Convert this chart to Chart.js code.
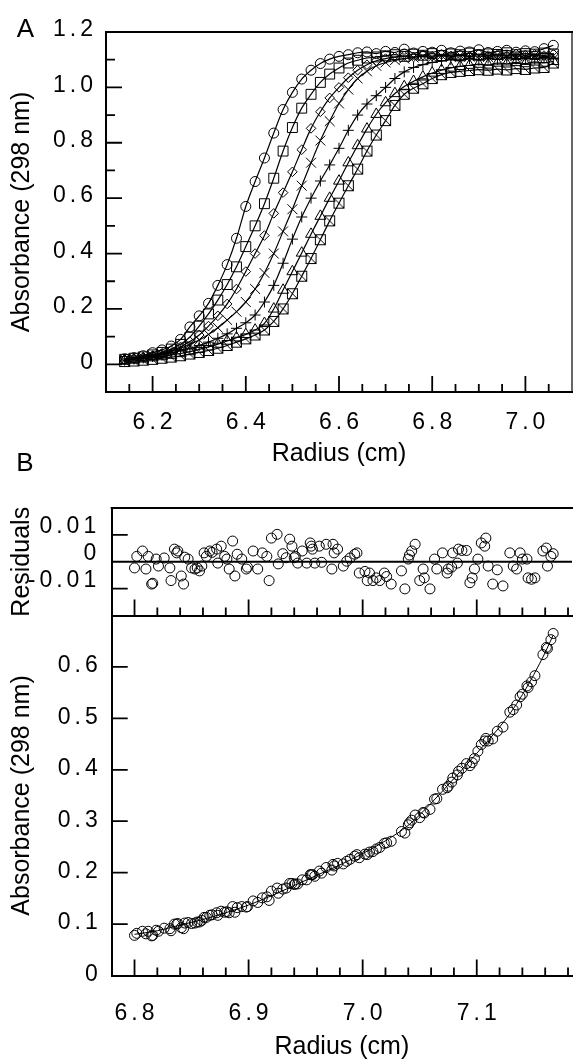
<!DOCTYPE html>
<html><head><meta charset="utf-8">
<script src="https://cdn.jsdelivr.net/npm/chart.js@4.4.1/dist/chart.umd.min.js"></script>
<style>
html,body{margin:0;padding:0;background:#fff;}
#wrap{position:relative;width:573px;height:1061px;overflow:hidden;background:#fff;}
canvas{position:absolute;left:0;}
</style></head><body>
<div id="wrap">
<canvas id="cA" width="573" height="470" style="top:0px"></canvas>
<canvas id="cR" width="573" height="190" style="top:440px"></canvas>
<canvas id="cB" width="573" height="461" style="top:600px"></canvas>
</div>
<script>
// ---------- Panel A data ----------
const radiusA = [6.14,6.16,6.18,6.20,6.22,6.24,6.26,6.28,6.30,6.32,6.34,6.36,6.38,6.40,6.42,6.44,6.46,6.48,6.50,6.52,6.54,6.56,6.58,6.60,6.62,6.64,6.66,6.68,6.70,6.72,6.74,6.76,6.78,6.80,6.82,6.84,6.86,6.88,6.90,6.92,6.94,6.96,6.98,7.00,7.02,7.04,7.06];
const circleA = [0.020,0.024,0.031,0.042,0.052,0.066,0.090,0.135,0.175,0.220,0.285,0.360,0.455,0.570,0.660,0.745,0.835,0.920,0.982,1.030,1.062,1.086,1.102,1.112,1.118,1.125,1.128,1.122,1.130,1.126,1.138,1.124,1.130,1.127,1.134,1.125,1.131,1.128,1.136,1.126,1.130,1.134,1.127,1.132,1.129,1.140,1.152];
const squareA = [0.018,0.022,0.027,0.034,0.043,0.055,0.072,0.098,0.138,0.182,0.232,0.288,0.352,0.425,0.500,0.580,0.672,0.770,0.855,0.925,0.975,1.018,1.048,1.070,1.088,1.098,1.106,1.110,1.114,1.118,1.112,1.120,1.116,1.122,1.115,1.121,1.118,1.124,1.117,1.121,1.119,1.125,1.118,1.122,1.120,1.124,1.121];
const diamondA = [0.017,0.021,0.026,0.032,0.040,0.050,0.063,0.082,0.106,0.138,0.175,0.218,0.272,0.335,0.400,0.465,0.545,0.620,0.695,0.775,0.852,0.912,0.962,1.000,1.035,1.062,1.082,1.096,1.104,1.110,1.114,1.110,1.117,1.113,1.119,1.114,1.118,1.112,1.120,1.115,1.118,1.114,1.121,1.116,1.119,1.115,1.120];
const timesA = [0.016,0.020,0.025,0.031,0.038,0.047,0.058,0.072,0.088,0.108,0.132,0.160,0.190,0.225,0.272,0.330,0.400,0.480,0.560,0.645,0.728,0.808,0.878,0.942,0.992,1.032,1.058,1.078,1.090,1.098,1.104,1.108,1.112,1.108,1.115,1.110,1.116,1.111,1.114,1.110,1.117,1.112,1.115,1.110,1.116,1.112,1.114];
const plusA = [0.015,0.019,0.023,0.028,0.034,0.041,0.049,0.058,0.068,0.080,0.094,0.110,0.130,0.150,0.178,0.225,0.285,0.365,0.452,0.532,0.600,0.662,0.720,0.780,0.845,0.900,0.940,0.970,1.000,1.032,1.056,1.072,1.082,1.090,1.095,1.100,1.096,1.104,1.099,1.106,1.101,1.108,1.103,1.107,1.102,1.108,1.104];
const triangleA = [0.014,0.017,0.020,0.024,0.028,0.033,0.039,0.046,0.054,0.063,0.073,0.084,0.096,0.108,0.124,0.148,0.200,0.268,0.335,0.402,0.470,0.535,0.600,0.662,0.728,0.790,0.850,0.903,0.945,0.978,1.003,1.022,1.038,1.052,1.062,1.070,1.076,1.080,1.084,1.081,1.088,1.085,1.090,1.086,1.092,1.088,1.094];
const boxedA = [0.010,0.012,0.015,0.018,0.022,0.026,0.031,0.037,0.043,0.050,0.058,0.068,0.080,0.092,0.106,0.124,0.155,0.200,0.255,0.318,0.382,0.450,0.518,0.582,0.645,0.705,0.770,0.828,0.880,0.935,0.975,0.997,1.013,1.032,1.046,1.054,1.058,1.061,1.064,1.062,1.066,1.063,1.068,1.065,1.070,1.072,1.088];

const xTicksA = [6.2,6.4,6.6,6.8,7.0];
const xLabelsA = ["6.2","6.4","6.6","6.8","7.0"];
const xMinorA = [6.15,6.25,6.3,6.35,6.45,6.5,6.55,6.65,6.7,6.75,6.85,6.9,6.95,7.05];
const yTicksA = [0,0.2,0.4,0.6,0.8,1.0,1.2];
const yLabelsA = ["0","0.2","0.4","0.6","0.8","1.0","1.2"];
const yMinorA = [0.1,0.3,0.5,0.7,0.9,1.1];

// ---------- Panel B data ----------
const radiusB = [6.800,6.802,6.807,6.810,6.812,6.815,6.816,6.819,6.821,6.826,6.831,6.832,6.835,6.837,6.838,6.841,6.843,6.844,6.847,6.850,6.853,6.855,6.857,6.859,6.861,6.863,6.866,6.868,6.872,6.873,6.876,6.879,6.881,6.883,6.886,6.888,6.890,6.894,6.898,6.899,6.904,6.908,6.912,6.916,6.918,6.920,6.925,6.926,6.930,6.933,6.936,6.938,6.940,6.941,6.943,6.947,6.951,6.954,6.955,6.956,6.958,6.962,6.964,6.968,6.973,6.974,6.975,6.978,6.983,6.986,6.989,6.993,6.995,6.997,7.002,7.004,7.006,7.009,7.012,7.015,7.019,7.021,7.025,7.034,7.037,7.040,7.041,7.043,7.046,7.050,7.053,7.054,7.059,7.063,7.065,7.070,7.074,7.075,7.078,7.079,7.083,7.084,7.087,7.091,7.094,7.096,7.098,7.101,7.104,7.107,7.108,7.110,7.114,7.118,7.123,7.129,7.132,7.135,7.138,7.140,7.144,7.145,7.148,7.151,7.158,7.161,7.162,7.165,7.167];
const residB = [-0.0023,0.0020,0.0040,-0.0027,0.0020,-0.0083,-0.0080,0.0010,-0.0016,0.0014,-0.0023,-0.0070,0.0047,0.0033,0.0040,-0.0053,-0.0083,0.0017,0.0010,-0.0023,-0.0027,-0.0023,-0.0034,-0.0016,0.0033,0.0020,0.0040,0.0035,0.0047,-0.0005,0.0058,0.0020,0.0010,-0.0027,0.0077,-0.0053,0.0028,0.0010,-0.0027,-0.0020,0.0040,-0.0027,0.0033,0.0020,-0.0070,0.0088,0.0102,-0.0008,0.0030,0.0015,0.0084,0.0058,0.0015,0.0020,-0.0005,0.0040,-0.0005,0.0070,0.0058,0.0047,-0.0005,0.0058,-0.0002,0.0065,-0.0027,0.0065,0.0033,0.0047,-0.0016,0.0002,0.0014,0.0028,0.0033,-0.0042,-0.0036,-0.0070,-0.0042,-0.0070,-0.0060,-0.0070,-0.0042,-0.0055,-0.0083,-0.0034,-0.0101,0.0010,0.0025,0.0040,0.0065,-0.0070,-0.0027,-0.0060,-0.0101,0.0010,-0.0027,0.0033,-0.0042,-0.0027,-0.0020,0.0033,-0.0005,0.0047,0.0042,0.0042,-0.0078,-0.0060,-0.0027,0.0010,0.0070,0.0058,0.0088,-0.0016,-0.0083,-0.0030,-0.0090,0.0033,-0.0016,-0.0027,0.0033,0.0010,0.0010,-0.0060,-0.0065,-0.0060,0.0040,0.0051,-0.0016,0.0020,0.0030];
const absB = [0.078,0.082,0.086,0.081,0.086,0.077,0.078,0.088,0.086,0.092,0.091,0.087,0.100,0.100,0.101,0.093,0.091,0.102,0.103,0.101,0.102,0.104,0.104,0.107,0.113,0.113,0.117,0.118,0.122,0.117,0.125,0.123,0.124,0.122,0.134,0.123,0.132,0.134,0.133,0.134,0.145,0.142,0.151,0.153,0.146,0.164,0.170,0.160,0.168,0.170,0.179,0.179,0.177,0.178,0.178,0.186,0.186,0.196,0.196,0.196,0.193,0.203,0.199,0.210,0.205,0.216,0.213,0.218,0.217,0.222,0.226,0.232,0.235,0.229,0.236,0.235,0.240,0.241,0.246,0.249,0.257,0.258,0.261,0.280,0.277,0.293,0.297,0.302,0.312,0.307,0.317,0.316,0.323,0.343,0.344,0.362,0.365,0.368,0.376,0.384,0.390,0.397,0.403,0.412,0.408,0.414,0.422,0.436,0.449,0.456,0.461,0.456,0.460,0.475,0.483,0.512,0.517,0.526,0.542,0.547,0.563,0.560,0.571,0.583,0.624,0.638,0.636,0.653,0.665];
const fitRadiusB = [6.80,6.82,6.84,6.86,6.88,6.90,6.92,6.94,6.96,6.98,7.00,7.02,7.04,7.06,7.08,7.10,7.12,7.13,7.14,7.15,7.16,7.167];
const fitAbsB = [0.080,0.087,0.098,0.109,0.122,0.137,0.155,0.175,0.195,0.215,0.237,0.262,0.292,0.335,0.383,0.432,0.483,0.512,0.546,0.585,0.628,0.662];
const zeroLineX = [6.78,7.19];
const zeroLineY = [0,0];

const xTicksB = [6.8,6.9,7.0,7.1];
const xLabelsB = ["6.8","6.9","7.0","7.1"];
const xMinorB = [6.82,6.84,6.86,6.88,6.92,6.94,6.96,6.98,7.02,7.04,7.06,7.08,7.12,7.14,7.16,7.18];
const yTicksR = [0.01,0,-0.01];
const yLabelsR = ["0.01","0","-0.01"];
const yMarksR = [0.01,-0.01];
const yTicksB = [0,0.1,0.2,0.3,0.4,0.5,0.6];
const yLabelsB = ["0","0.1","0.2","0.3","0.4","0.5","0.6"];

// ---------- styling ----------
const FONT = "'Liberation Sans', Arial, Helvetica, sans-serif";
const TICK_FONT = {family: FONT, size: 23, lineHeight: 1.2};
const TITLE_FONT = {family: FONT, size: 25, lineHeight: 1.2};
const LS = 4;

function boxedSlash() {
  const c = document.createElement('canvas');
  c.width = 13; c.height = 13;
  const g = c.getContext('2d');
  g.strokeStyle = '#000'; g.lineWidth = 1;
  g.strokeRect(1.5, 1.5, 10, 10);
  g.beginPath(); g.moveTo(1.5, 1.5); g.lineTo(11.5, 11.5); g.stroke();
  return c;
}

const spacingPlugin = {
  id: 'spacing',
  beforeDraw(chart) {
    Object.values(chart.scales).forEach(s => {
      if (s._lsPatched) return;
      const orig = s.drawLabels;
      s.drawLabels = function (ca) {
        const c = this.ctx; c.save();
        try { c.letterSpacing = LS + 'px'; } catch (e) {}
        orig.call(this, ca); c.restore();
      };
      s._lsPatched = true;
    });
  }
};

const framePlugin = {
  id: 'frame',
  afterDraw(chart, args, o) {
    const ctx = chart.ctx, a = chart.chartArea, sx = chart.scales.x, sy = chart.scales.y;
    ctx.save();
    ctx.strokeStyle = '#000';
    ctx.lineWidth = 1.8;
    ctx.beginPath();
    (o.xMajor || []).forEach(v => { const p = sx.getPixelForValue(v); ctx.moveTo(p, a.bottom); ctx.lineTo(p, a.bottom - 16); });
    (o.xMinor || []).forEach(v => { const p = sx.getPixelForValue(v); ctx.moveTo(p, a.bottom); ctx.lineTo(p, a.bottom - 8); });
    (o.yMajor || []).forEach(v => { const p = sy.getPixelForValue(v); ctx.moveTo(a.left, p); ctx.lineTo(a.left + 16, p); });
    (o.yMinor || []).forEach(v => { const p = sy.getPixelForValue(v); ctx.moveTo(a.left, p); ctx.lineTo(a.left + 9, p); });
    ctx.stroke();
    if (o.top) { ctx.lineWidth = o.top; ctx.beginPath(); ctx.moveTo(a.left - 1, a.top); ctx.lineTo(chart.width, a.top); ctx.stroke(); }
    if (o.right) { ctx.lineWidth = o.right; ctx.beginPath(); ctx.moveTo(a.right, a.top); ctx.lineTo(a.right, a.bottom); ctx.stroke(); }
    (o.texts || []).forEach(t => {
      ctx.fillStyle = '#000'; ctx.font = t.size + 'px ' + FONT;
      ctx.textAlign = 'center'; ctx.textBaseline = 'middle';
      ctx.fillText(t.text, t.x, t.y);
    });
    ctx.restore();
  }
};

function pts(xs, ys) { return xs.map((x, i) => ({x: x, y: ys[i]})); }
function fixSize(w, h) {
  return s => {
    if (w !== null) s.width = w;
    if (h !== null) s.height = h;
    s.paddingTop = 0; s.paddingBottom = 0; s.paddingLeft = 0; s.paddingRight = 0;
  };
}
const base = {responsive: false, animation: false, events: []};
const noPlug = {legend: {display: false}, tooltip: {enabled: false}};
const border2 = {display: true, color: '#000', width: 2};
const noGrid = {display: false, drawTicks: false, tickLength: 0};

// ---------- Chart A ----------
const boxedImg = boxedSlash();
const seriesA = [
  {vals: circleA, style: 'circle', r: 5},
  {vals: squareA, style: 'rect', r: 7},
  {vals: diamondA, style: 'rectRot', r: 4.8},
  {vals: timesA, style: 'crossRot', r: 7},
  {vals: plusA, style: 'cross', r: 5.5},
  {vals: triangleA, style: 'triangle', r: 6.3},
  {vals: boxedA, style: boxedImg, r: 6}
];
new Chart(document.getElementById('cA'), {
  type: 'scatter',
  data: {datasets: seriesA.map(s => ({
    data: pts(radiusA, s.vals), showLine: true, cubicInterpolationMode: 'monotone',
    borderColor: '#000', borderWidth: 1.2, pointStyle: s.style, pointRadius: s.r,
    pointBorderColor: '#000', pointBorderWidth: 1, pointBackgroundColor: 'rgba(0,0,0,0)'
  }))},
  options: Object.assign({}, base, {
    layout: {autoPadding: false, padding: {top: 32, right: 1, left: 0, bottom: 0}},
    plugins: Object.assign({}, noPlug, {frame: {xMajor: xTicksA, xMinor: xMinorA, yMajor: yTicksA.slice(0, 6), yMinor: yMinorA, top: 2, right: 1.2,
      texts: [{text: 'A', x: 25.5, y: 30, size: 26}]}}),
    scales: {
      x: {type: 'linear', min: 6.1, max: 7.1,
        afterBuildTicks: s => { s.ticks = xTicksA.map(v => ({value: v})); },
        afterFit: fixSize(null, 78),
        grid: noGrid, border: border2,
        ticks: {padding: 17, font: TICK_FONT, color: '#000', maxRotation: 0, minRotation: 0, autoSkip: false, labelOffset: LS / 2,
          callback: (v, i) => xLabelsA[i]},
        title: {display: true, text: 'Radius (cm)', color: '#000', font: TITLE_FONT, padding: {top: 0, bottom: 1}}
      },
      y: {type: 'linear', min: -0.1, max: 1.2,
        afterBuildTicks: s => { s.ticks = yTicksA.map(v => ({value: v})); },
        afterFit: fixSize(106, null),
        grid: noGrid, border: border2,
        ticks: {padding: 9, font: TICK_FONT, color: '#000', autoSkip: false, labelOffset: -2,
          callback: (v, i) => yLabelsA[i]},
        title: {display: true, text: 'Absorbance (298 nm)', color: '#000', font: TITLE_FONT, padding: {top: 7, bottom: 0}}
      }
    }
  }),
  plugins: [spacingPlugin, framePlugin]
});

// ---------- Residuals ----------
new Chart(document.getElementById('cR'), {
  type: 'scatter',
  data: {datasets: [
    {data: pts(zeroLineX, zeroLineY), showLine: true, borderColor: '#000', borderWidth: 2, pointRadius: 0},
    {data: pts(radiusB, residB), pointStyle: 'circle', pointRadius: 5, pointBorderColor: '#000', pointBorderWidth: 1, pointBackgroundColor: 'rgba(0,0,0,0)'}
  ]},
  options: Object.assign({}, base, {
    layout: {autoPadding: false, padding: {top: 68, right: 1, left: 0, bottom: 0}},
    plugins: Object.assign({}, noPlug, {frame: {xMajor: xTicksB, xMinor: xMinorB, yMajor: yMarksR, top: 2,
      texts: [{text: 'B', x: 25, y: 23.5, size: 26}]}}),
    scales: {
      x: {type: 'linear', min: 6.78, max: 7.1835,
        afterFit: fixSize(null, 14.5),
        grid: noGrid, border: border2, ticks: {display: false}
      },
      y: {type: 'linear', min: -0.02, max: 0.02,
        afterBuildTicks: s => { s.ticks = yTicksR.map(v => ({value: v})); },
        afterFit: fixSize(111.7, null),
        grid: noGrid, border: border2,
        ticks: {padding: 11.5, font: TICK_FONT, color: '#000', autoSkip: false, labelOffset: -8,
          callback: (v, i) => yLabelsR[i]},
        title: {display: true, text: 'Residuals', color: '#000', font: TITLE_FONT, padding: {top: 7, bottom: 0}}
      }
    }
  }),
  plugins: [spacingPlugin, framePlugin]
});

// ---------- Panel B main ----------
new Chart(document.getElementById('cB'), {
  type: 'scatter',
  data: {datasets: [
    {data: pts(fitRadiusB, fitAbsB), showLine: true, cubicInterpolationMode: 'monotone', borderColor: '#000', borderWidth: 1, pointRadius: 0},
    {data: pts(radiusB, absB), pointStyle: 'circle', pointRadius: 5, pointBorderColor: '#000', pointBorderWidth: 1, pointBackgroundColor: 'rgba(0,0,0,0)'}
  ]},
  options: Object.assign({}, base, {
    layout: {autoPadding: false, padding: {top: 15.5, right: 1, left: 0, bottom: 0}},
    plugins: Object.assign({}, noPlug, {frame: {xMajor: xTicksB, xMinor: xMinorB, yMajor: yTicksB.slice(1)}}),
    scales: {
      x: {type: 'linear', min: 6.78, max: 7.1835,
        afterBuildTicks: s => { s.ticks = xTicksB.map(v => ({value: v})); },
        afterFit: fixSize(null, 85.5),
        grid: noGrid, border: border2,
        ticks: {padding: 24, font: TICK_FONT, color: '#000', maxRotation: 0, minRotation: 0, autoSkip: false, labelOffset: LS / 2,
          callback: (v, i) => xLabelsB[i]},
        title: {display: true, text: 'Radius (cm)', color: '#000', font: {family: FONT, size: 25, lineHeight: 1}, padding: {top: 0, bottom: 1}}
      },
      y: {type: 'linear', min: 0, max: 0.7,
        afterBuildTicks: s => { s.ticks = yTicksB.map(v => ({value: v})); },
        afterFit: fixSize(111.7, null),
        grid: noGrid, border: border2,
        ticks: {padding: 10, font: TICK_FONT, color: '#000', autoSkip: false, labelOffset: -1,
          callback: (v, i) => yLabelsB[i]},
        title: {display: true, text: 'Absorbance (298 nm)', color: '#000', font: TITLE_FONT, padding: {top: 7, bottom: 0}}
      }
    }
  }),
  plugins: [spacingPlugin, framePlugin]
});
</script>
</body></html>
